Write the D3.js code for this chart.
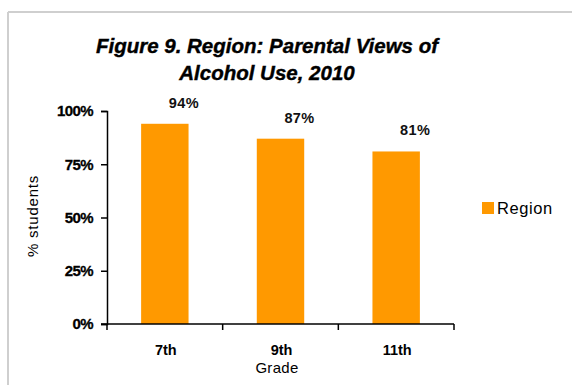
<!DOCTYPE html>
<html>
<head>
<meta charset="utf-8">
<script src="https://cdn.jsdelivr.net/npm/d3@7"></script>
<style>
  html, body { margin: 0; padding: 0; background: #fff; }
  svg { display: block; font-family: "Liberation Sans", Arial, sans-serif; }
</style>
</head>
<body>
<svg id="chart" width="572" height="385"></svg>
<script>
// Chart data
const grades = ["7th", "9th", "11th"];
const regionValues = [94, 87, 81];
const yTicks = [0, 25, 50, 75, 100];
const titleLines = ["Figure 9. Region: Parental Views of", "Alcohol Use, 2010"];
const seriesName = "Region";

const svg = d3.select("#chart");
const barColor = "#FF9900";

// Outer frame (top and left edges visible)
svg.append("line").attr("x1", 8).attr("x2", 572).attr("y1", 12).attr("y2", 12)
  .attr("stroke", "#cfcfcf").attr("stroke-width", 2);
svg.append("line").attr("x1", 8).attr("x2", 8).attr("y1", 12).attr("y2", 385)
  .attr("stroke", "#cfcfcf").attr("stroke-width", 2);

// Title
svg.append("g").selectAll("text").data(titleLines).join("text")
  .attr("x", 267).attr("y", (d, i) => 53 + i * 27)
  .attr("text-anchor", "middle")
  .attr("font-size", 20.5).attr("font-weight", "bold").attr("font-style", "italic")
  .attr("fill", "#000").attr("stroke", "#000").attr("stroke-width", 0.4)
  .text(d => d);

const plot = { left: 107, right: 454, top: 111, bottom: 324 };

const x = d3.scaleBand().domain(grades).range([plot.left, plot.right]).paddingInner(0).paddingOuter(0);
const y = d3.scaleLinear().domain([0, 100]).range([plot.bottom, plot.top]);

const barW = x.bandwidth() * 0.41;

// Bars
svg.append("g").selectAll("rect").data(grades).join("rect")
  .attr("x", d => x(d) + (x.bandwidth() - barW) / 2)
  .attr("y", (d, i) => y(regionValues[i]))
  .attr("width", barW)
  .attr("height", (d, i) => plot.bottom - y(regionValues[i]))
  .attr("fill", barColor);

// Value labels
svg.append("g").selectAll("text").data(grades).join("text")
  .attr("x", d => x(d) + x.bandwidth() / 2 + 19)
  .attr("y", (d, i) => y(regionValues[i]) - 16)
  .attr("text-anchor", "middle")
  .attr("font-size", 14.5).attr("font-weight", "bold").attr("fill", "#111")
  .attr("letter-spacing", 0.4)
  .text((d, i) => regionValues[i] + "%");

// Y axis
const yAxis = svg.append("g").attr("transform", `translate(${plot.left},0)`)
  .call(d3.axisLeft(y).tickValues(yTicks).tickFormat(d => d + "%").tickSizeOuter(0).tickSize(6).tickPadding(8));
yAxis.select(".domain").attr("stroke", "#000").attr("stroke-width", 1.5);
yAxis.selectAll(".tick line").attr("stroke", "#000").attr("stroke-width", 1.5);
yAxis.selectAll(".tick text").attr("font-size", 15).attr("font-weight", "bold")
  .attr("font-family", "Liberation Sans, Arial, sans-serif").attr("fill", "#000")
  .attr("stroke", "#000").attr("stroke-width", 0.3)
  .attr("letter-spacing", -0.6);

// X axis with boundary ticks between categories
const xAxis = svg.append("g").attr("transform", `translate(0,${plot.bottom})`);
xAxis.append("line").attr("x1", plot.left - 6).attr("x2", plot.right)
  .attr("stroke", "#000").attr("stroke-width", 1.5);
const bounds = grades.map(d => x(d)).concat([plot.right]);
xAxis.selectAll("line.b").data(bounds).join("line").attr("class", "b")
  .attr("x1", d => d).attr("x2", d => d).attr("y1", 0).attr("y2", 6)
  .attr("stroke", "#000").attr("stroke-width", 1.5);
xAxis.selectAll("text").data(grades).join("text")
  .attr("x", d => x(d) + x.bandwidth() / 2 + 1)
  .attr("y", 31)
  .attr("text-anchor", "middle")
  .attr("font-size", 14.5).attr("font-weight", "bold").attr("fill", "#000")
  .text(d => d);

// Axis titles
svg.append("text").attr("x", 277).attr("y", 373).attr("text-anchor", "middle")
  .attr("font-size", 15).attr("letter-spacing", 0.3).attr("fill", "#000").text("Grade");
svg.append("text")
  .attr("transform", "translate(38,216) rotate(-90)")
  .attr("text-anchor", "middle")
  .attr("font-size", 15).attr("letter-spacing", 0.8).attr("fill", "#000").text("% students");

// Legend
const legend = svg.append("g").attr("transform", "translate(482,202)");
legend.append("rect").attr("width", 12).attr("height", 12).attr("fill", barColor);
legend.append("text").attr("x", 15).attr("y", 12)
  .attr("font-size", 16.5).attr("letter-spacing", 0.6).attr("fill", "#000").text(seriesName);
</script>
</body>
</html>
